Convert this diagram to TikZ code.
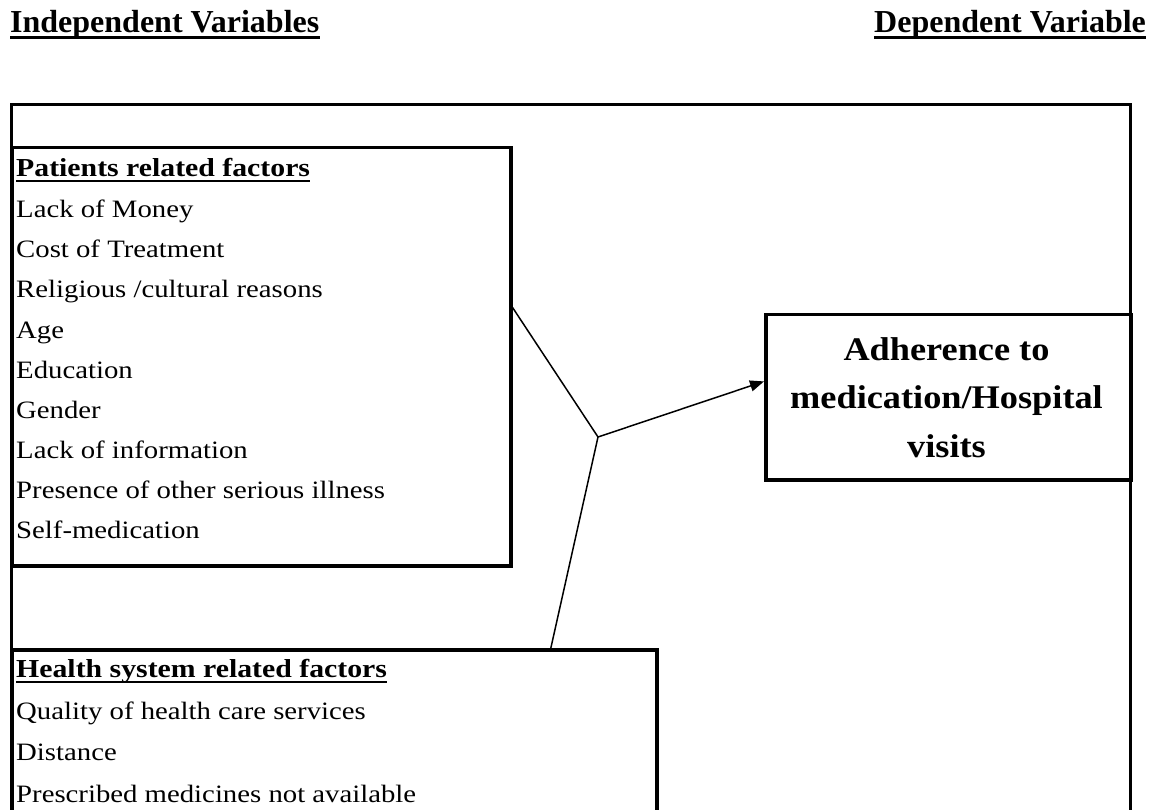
\documentclass[tikz,border=0pt]{standalone}
\usepackage{fontspec}
\setmainfont{Liberation Serif}
\newfontfamily\bodyfont[FakeStretch=1.15]{Liberation Serif}
\newfontfamily\adhfont[FakeStretch=1.1]{Liberation Serif}
\usetikzlibrary{arrows.meta,calc}
\tikzset{
  boxframe/.style={draw, line width=3.5pt, inner sep=0pt, anchor=north west},
  outerframe/.style={draw, line width=2.6pt, inner sep=0pt, anchor=north west},
  titletext/.style={inner sep=0pt, anchor=base west, font=\fontsize{32}{38}\selectfont\bfseries},
  headtext/.style={inner sep=0pt, anchor=base west, font=\bodyfont\fontsize{25.9}{30}\selectfont\bfseries},
  itemtext/.style={inner sep=0pt, anchor=base west, font=\bodyfont\fontsize{25}{30}\selectfont},
  adhtext/.style={inner sep=0pt, anchor=base, font=\adhfont\fontsize{33}{40}\selectfont\bfseries},
  ulinetitle/.style={line width=3pt},
  ulinehead/.style={line width=2pt},
  conn/.style={line width=1.5pt},
  arr/.style={line width=1.5pt, -{Triangle[length=14pt,width=11pt]}}
}
\begin{document}
\begin{tikzpicture}[x=1pt,y=-1pt]
\useasboundingbox (0,0) rectangle (1157,810);
\clip (0,0) rectangle (1157,810);
% titles
\node[titletext] (tind) at (10,33) {Independent Variables};
\draw[ulinetitle] ($(tind.base west)+(0,5)$) -- ($(tind.base east)+(0,5)$);
\node[titletext] (tdep) at (874,33) {Dependent Variable};
\draw[ulinetitle] ($(tdep.base west)+(0,5)$) -- ($(tdep.base east)+(0,5)$);
% frames
\node[outerframe, minimum width=1119pt, minimum height=740pt] (outer) at (10,103) {};
\node[boxframe, minimum width=499pt, minimum height=418pt] (pat) at (10,146) {};
\node[boxframe, minimum width=645pt, minimum height=200pt] (hs) at (10,648) {};
\node[boxframe, minimum width=365pt, minimum height=165pt] (adh) at (764,313) {};
% patients text
\node[headtext] (ph) at (16,177) {Patients related factors};
\draw[ulinehead] ($(ph.base west)+(0,4.5)$) -- ($(ph.base east)+(0,4.5)$);
\node[itemtext] (p1) at (16,218) {Lack of Money};
\node[itemtext] (p2) at (16,258) {Cost of Treatment};
\node[itemtext] (p3) at (16,298) {Religious /cultural reasons};
\node[itemtext] (p4) at (16,338) {Age};
\node[itemtext] (p5) at (16,378) {Education};
\node[itemtext] (p6) at (16,418) {Gender};
\node[itemtext] (p7) at (16,458) {Lack of information};
\node[itemtext] (p8) at (16,498) {Presence of other serious illness};
\node[itemtext] (p9) at (16,538) {Self-medication};
% health system text
\node[headtext] (hh) at (16,677) {Health system related factors};
\draw[ulinehead] ($(hh.base west)+(0,4.5)$) -- ($(hh.base east)+(0,4.5)$);
\node[itemtext] (h1) at (16,719) {Quality of health care services};
\node[itemtext] (h2) at (16,760) {Distance};
\node[itemtext] (h3) at (16,802) {Prescribed medicines not available};
% adherence text
\node[adhtext] (a1) at (946.5,360) {Adherence to};
\node[adhtext] (a2) at (946.5,408.5) {medication/Hospital};
\node[adhtext] (a3) at (946.5,457) {visits};
% connectors
\coordinate (j) at (598,437);
\draw[conn] ($(pat.north east)!0.383!(pat.south east)$) -- (j);
\draw[conn] ($(hs.north west)!0.834!(hs.north east)$) -- (j);
\draw[arr] (j) -- ($(adh.north west)!0.406!(adh.south west)$);
\end{tikzpicture}
\end{document}
